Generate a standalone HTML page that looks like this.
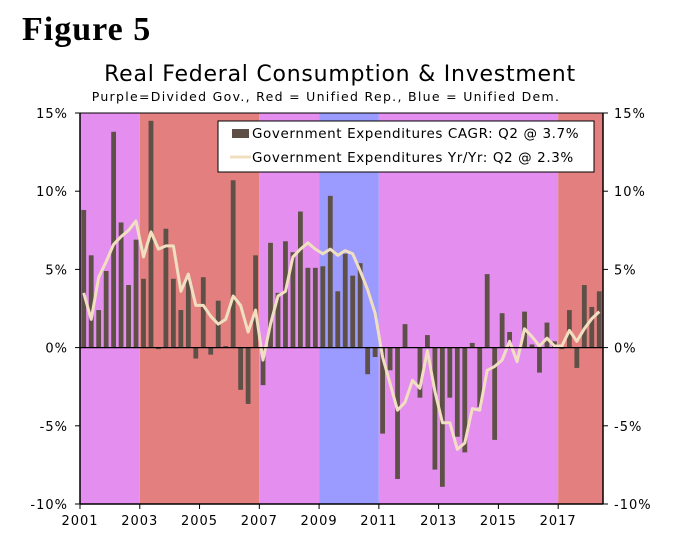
<!DOCTYPE html>
<html><head><meta charset="utf-8"><style>
body{margin:0;background:#fff;width:673px;height:547px;overflow:hidden}
svg{display:block}
text{font-family:"DejaVu Sans","Liberation Sans",sans-serif}
</style></head><body>
<svg id="c" width="673" height="547">
<text x="22" y="40" style="font-family:'Liberation Serif',serif;letter-spacing:1px" font-size="34" font-weight="bold">Figure 5</text>
<text x="340" y="81" text-anchor="middle" font-size="22" style="letter-spacing:0.75px">Real Federal Consumption &amp; Investment</text>
<text x="326" y="101" text-anchor="middle" font-size="12.5" style="letter-spacing:1.3px">Purple=Divided Gov., Red = Unified Rep., Blue = Unified Dem.</text>
<g id="bg"></g><g id="bars"></g><g id="line"></g><g id="axes"></g>
<g>
<rect x="218" y="121" width="376" height="51" fill="#fff" stroke="#000"/>
<rect x="232" y="129" width="17" height="9" fill="#5e5046"/>
<text x="252" y="138" font-size="13.5" style="letter-spacing:0.6px">Government Expenditures CAGR: Q2 @ 3.7%</text>
<line x1="230" y1="157" x2="251" y2="157" stroke="#f0dfc0" stroke-width="3"/>
<text x="252" y="162" font-size="13.5" style="letter-spacing:0.6px">Government Expenditures Yr/Yr: Q2 @ 2.3%</text>
</g>
</svg>
<script>
const cagr=[8.8,5.9,2.4,4.9, 13.8,8.0,4.0,6.9, 4.4,14.5,-0.1,7.6, 4.4,2.4,4.5,-0.7, 4.5,-0.45,3.0,0.1, 10.7,-2.7,-3.6,5.9,
-2.4,6.7,3.5,6.8, 6.1,8.7,5.1,5.1, 5.2,9.7,3.6,6.0, 4.6,5.4,-1.7,-0.6, -5.5,-1.45,-8.4,1.5, 0.0,-3.2,0.8,-7.8,
-8.9,-3.2,-5.7,-6.7, 0.3,-3.8,4.7,-5.9, 2.2,1.0,0.0,2.3, 0.2,-1.6,1.6,0.4, -0.1,2.4,-1.3,4.0, 2.6,3.6];
const yoy=[3.5,1.8,4.5,5.5, 6.6,7.1,7.5,8.1, 5.8,7.4,6.3,6.5, 6.5,3.6,4.7,2.7, 2.7,2.0,1.5,1.8, 3.3,2.7,1.0,2.4,
-0.8,1.5,3.3,3.6, 5.8,6.3,6.7,6.3, 6.0,6.3,5.9,6.2, 6.0,4.9,3.7,2.2, -0.6,-2.3,-4.0,-3.5, -2.1,-2.6,-0.2,-2.8,
-4.8,-4.8,-6.5,-6.1, -3.9,-4.0,-1.45,-1.2, -0.8,0.4,-0.9,1.2, 0.7,0.1,0.6,0.1, 0.1,1.1,0.4,1.2, 1.85,2.3];
const yTicks=[15,10,5,0,-5,-10];
const xTicks=[2001,2003,2005,2007,2009,2011,2013,2015,2017];
const regimeStart=[2001,2003,2007,2009,2011,2017];
const regimeEnd=[2003,2007,2009,2011,2017,2018.5];
const regimeColor=["#e48ef0","#e47f7f","#e48ef0","#9a9aff","#e48ef0","#e47f7f"];
const L=80,R=603,T=113,B=504;
const X=t=>L+(t-2001)/(2018.5-2001)*(R-L);
const Y=v=>T+(15-v)/25*(B-T);
const ns="http://www.w3.org/2000/svg";
function mk(p,tag,at){const e=document.createElementNS(ns,tag);for(const k in at)e.setAttribute(k,at[k]);p.appendChild(e);return e;}
const bg=document.getElementById('bg');
regimeStart.forEach((s,i)=>{const r=mk(bg,'rect',{x:X(s),y:T,width:X(regimeEnd[i])-X(s),height:B-T,fill:regimeColor[i]});

});
const bars=document.getElementById('bars');
const q=(X(2001.25)-X(2001));
cagr.forEach((v,i)=>{const cx=X(2001+i*0.25)+q/2;const y0=Y(0),y1=Y(v);
const r=mk(bars,'rect',{x:cx-2.4,y:Math.min(y0,y1),width:4.8,height:Math.abs(y1-y0),fill:'#5e5046'});

});
const pts=yoy.map((v,i)=>(X(2001+i*0.25)+q/2).toFixed(1)+','+Y(v).toFixed(1)).join(' ');
const pl=mk(document.getElementById('line'),'polyline',{points:pts,fill:'none',stroke:'#f0dfc0','stroke-width':3,'stroke-linejoin':'round'});


const ax=document.getElementById('axes');
mk(ax,'line',{x1:L,y1:Y(0),x2:R,y2:Y(0),stroke:'#000','stroke-width':1.2});
mk(ax,'line',{x1:L,y1:T,x2:R,y2:T,stroke:'#000'});
mk(ax,'line',{x1:L,y1:T,x2:L,y2:B,stroke:'#000','stroke-width':1.5});
mk(ax,'line',{x1:R,y1:T,x2:R,y2:B,stroke:'#000','stroke-width':1.5});
mk(ax,'line',{x1:L,y1:B,x2:R,y2:B,stroke:'#000','stroke-width':1.5});
yTicks.forEach(v=>{const y=Y(v);
mk(ax,'line',{x1:L-5,y1:y,x2:L,y2:y,stroke:'#000'});
mk(ax,'line',{x1:R,y1:y,x2:R+5,y2:y,stroke:'#000'});
const a=mk(ax,'text',{x:L-12,y:y+5,'text-anchor':'end','font-size':13,style:'letter-spacing:1px'});a.textContent=v+'%';


const b=mk(ax,'text',{x:R+11,y:y+5,'font-size':13,style:'letter-spacing:1px'});b.textContent=v+'%';

});
xTicks.forEach(t=>{const x=X(t);mk(ax,'line',{x1:x,y1:B,x2:x,y2:B+5,stroke:'#000'});
const a=mk(ax,'text',{x:x,y:B+21,'text-anchor':'middle','font-size':13,style:'letter-spacing:1px'});a.textContent=t;

});
</script>
</body></html>
